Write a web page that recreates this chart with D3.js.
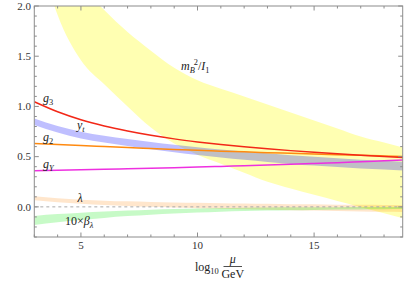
<!DOCTYPE html>
<html><head><meta charset="utf-8">
<script src="https://cdn.jsdelivr.net/npm/d3@7"></script>
<style>
html,body{margin:0;padding:0;background:#fff;}
svg{display:block;}
</style></head>
<body>
<script>
// log10(mu/GeV) sample points
const t = [3,4,5,6,7,8,9,10,11,12,13,14,15,16,17,18,19];
// gauge couplings
const g3 = [1.047,0.947,0.868,0.806,0.756,0.713,0.677,0.647,0.621,0.598,0.578,0.560,0.543,0.528,0.514,0.501,0.489];
const g2 = [0.632,0.621,0.610,0.600,0.590,0.581,0.572,0.563,0.555,0.548,0.540,0.533,0.526,0.520,0.513,0.507,0.501];
const gY = [0.359,0.364,0.369,0.374,0.379,0.385,0.390,0.396,0.403,0.409,0.416,0.424,0.432,0.440,0.449,0.458,0.468];
// top Yukawa band
const ytHi = [0.880,0.805,0.748,0.708,0.675,0.645,0.618,0.594,0.572,0.552,0.533,0.515,0.498,0.483,0.470,0.458,0.448];
const ytLo = [0.815,0.740,0.680,0.640,0.605,0.573,0.543,0.516,0.491,0.468,0.447,0.428,0.411,0.396,0.383,0.371,0.360];
// m_B^2 / I_1 band
const mbHi = [2.95,2.55,2.20,1.96,1.74,1.555,1.385,1.26,1.175,1.10,1.02,0.94,0.86,0.78,0.70,0.64,0.58];
const mbLo = [2.70,1.91,1.46,1.22,1.00,0.79,0.63,0.52,0.43,0.34,0.25,0.183,0.121,0.059,-0.003,-0.064,-0.126];
// lambda band
const lamHi = [0.105,0.085,0.072,0.062,0.055,0.049,0.044,0.040,0.036,0.033,0.030,0.027,0.025,0.022,0.020,0.018,0.016];
const lamLo = [0.065,0.045,0.030,0.018,0.009,0.000,-0.007,-0.013,-0.019,-0.024,-0.029,-0.033,-0.037,-0.041,-0.045,-0.048,-0.051];
// 10 x beta_lambda band
const betHi = [-0.090,-0.072,-0.058,-0.046,-0.036,-0.028,-0.021,-0.016,-0.012,-0.009,-0.007,-0.005,-0.004,-0.003,-0.002,-0.001,-0.001];
const betLo = [-0.180,-0.152,-0.130,-0.110,-0.092,-0.078,-0.066,-0.056,-0.048,-0.042,-0.037,-0.033,-0.030,-0.027,-0.025,-0.023,-0.021];
// ticks
const xMajor = [5,10,15];
const yMajor = [0.0,0.5,1.0,1.5,2.0];

const FONT = "'Liberation Serif','Times New Roman','DejaVu Serif',serif";
const W = 407, H = 281;
const svg = d3.select("body").append("svg").attr("width",W).attr("height",H)
  .attr("font-family",FONT);
const x = d3.scaleLinear().domain([3,18.8]).range([34.3,402.7]);
const y = d3.scaleLinear().domain([-0.3,2.0]).range([237,6]);

svg.append("clipPath").attr("id","clip").append("rect")
  .attr("x",x(3)).attr("y",y(2)).attr("width",x(18.8)-x(3)).attr("height",y(-0.3)-y(2));
const plot = svg.append("g").attr("clip-path","url(#clip)");

const area = (hi,lo)=> d3.area().curve(d3.curveMonotoneX)
  .x((d,i)=>x(t[i])).y0((d,i)=>y(lo[i])).y1((d,i)=>y(hi[i]))(t);
const line = (v)=> d3.line().curve(d3.curveMonotoneX).x((d,i)=>x(t[i])).y((d,i)=>y(v[i]))(t);

plot.append("path").attr("d",area(mbHi,mbLo)).attr("fill","rgb(255,255,0)").attr("fill-opacity",0.3);
plot.append("path").attr("d",area(ytHi,ytLo)).attr("fill","rgb(0,0,255)").attr("fill-opacity",0.25);
plot.append("path").attr("d",area(lamHi,lamLo)).attr("fill","rgb(255,128,0)").attr("fill-opacity",0.2);
plot.append("path").attr("d",area(betHi,betLo)).attr("fill","rgb(0,230,0)").attr("fill-opacity",0.22);

plot.append("line").attr("x1",x(3)).attr("x2",x(18.8)).attr("y1",y(0)).attr("y2",y(0))
  .attr("stroke","#aaa").attr("stroke-width",1).attr("stroke-dasharray","3,3");

plot.append("path").attr("d",line(g2)).attr("fill","none").attr("stroke","#ff8a10").attr("stroke-width",1.5);
plot.append("path").attr("d",line(gY)).attr("fill","none").attr("stroke","#ee30e0").attr("stroke-width",1.5);
plot.append("path").attr("d",line(g3)).attr("fill","none").attr("stroke","#f22818").attr("stroke-width",1.5);

// frame
const fc = "#8c8c8c";
const x0 = x(3), x1 = x(18.8), y0 = y(-0.3), y1 = y(2);
svg.append("rect").attr("x",x0).attr("y",y1).attr("width",x1-x0).attr("height",y0-y1)
  .attr("fill","none").attr("stroke",fc).attr("stroke-width",1);

// x ticks
const xMinor = d3.range(3,19,1);
xMinor.forEach(v=>{
  const big = xMajor.includes(v);
  const L = big?4.5:2.5;
  svg.append("line").attr("x1",x(v)).attr("x2",x(v)).attr("y1",y0).attr("y2",y0-L).attr("stroke",fc);
  svg.append("line").attr("x1",x(v)).attr("x2",x(v)).attr("y1",y1).attr("y2",y1+L).attr("stroke",fc);
});
xMajor.forEach(v=>{
  svg.append("text").attr("x",x(v)).attr("y",249).attr("text-anchor","middle")
    .attr("font-size",11).attr("fill","#333").text(v);
});
// y ticks
const yMinor = d3.range(-3,21).map(k=>k/10);
yMinor.forEach(v=>{
  const big = yMajor.some(m=>Math.abs(m-v)<1e-9);
  const L = big?4.5:2.5;
  svg.append("line").attr("x1",x0).attr("x2",x0+L).attr("y1",y(v)).attr("y2",y(v)).attr("stroke",fc);
  svg.append("line").attr("x1",x1).attr("x2",x1-L).attr("y1",y(v)).attr("y2",y(v)).attr("stroke",fc);
});
yMajor.forEach(v=>{
  svg.append("text").attr("x",31).attr("y",y(v)+3.7).attr("text-anchor","end")
    .attr("font-size",11).attr("fill","#333").text(v.toFixed(1));
});

// labels
function lab(xp,yp,parts,size){
  const tx = svg.append("text").attr("x",xp).attr("y",yp).attr("font-size",size||12).attr("fill","#222");
  parts.forEach(p=>{
    const s = tx.append("tspan").text(p.s);
    if(p.i) s.attr("font-style","italic");
    if(p.sub){ s.attr("font-size",(size||12)*0.7).attr("dy",3); }
  });
  return tx;
}
lab(43,101.5,[{s:"g",i:1},{s:"3",sub:1}]);
lab(77,129,[{s:"y",i:1},{s:"t",i:1,sub:1}]);
lab(43,141,[{s:"g",i:1},{s:"2",sub:1}]);
lab(43,167.5,[{s:"g",i:1},{s:"Y",i:1,sub:1}]);
lab(77.5,201.5,[{s:"λ",i:1}]);
lab(65,225,[{s:"10×"},{s:"β",i:1},{s:"λ",i:1,sub:1}]);
// m_B^2 / I_1
(function(){
  const tx = svg.append("text").attr("x",181).attr("y",69.5).attr("font-size",12).attr("fill","#222");
  tx.append("tspan").attr("font-style","italic").text("m");
  tx.append("tspan").attr("font-style","italic").attr("font-size",8.4).attr("dy",3).text("B");
  tx.append("tspan").attr("font-size",8.4).attr("dy",-8).attr("dx",-1).text("2");
  tx.append("tspan").attr("dy",5).text("/");
  tx.append("tspan").attr("font-style","italic").text("I");
  tx.append("tspan").attr("font-size",8.4).attr("dy",3).text("1");
})();
// x axis title
svg.append("text").attr("x",195).attr("y",271).attr("font-size",12).attr("fill","#222").text("log")
  .append("tspan").attr("font-size",8.4).attr("dy",2.5).text("10");
svg.append("line").attr("x1",223.5).attr("x2",242).attr("y1",266.5).attr("y2",266.5).attr("stroke","#222").attr("stroke-width",0.8);
svg.append("text").attr("x",232.8).attr("y",263).attr("text-anchor","middle").attr("font-size",12)
  .attr("font-style","italic").attr("fill","#222").text("μ");
svg.append("text").attr("x",232.8).attr("y",278).attr("text-anchor","middle").attr("font-size",12)
  .attr("fill","#222").text("GeV");
</script>
</body></html>
